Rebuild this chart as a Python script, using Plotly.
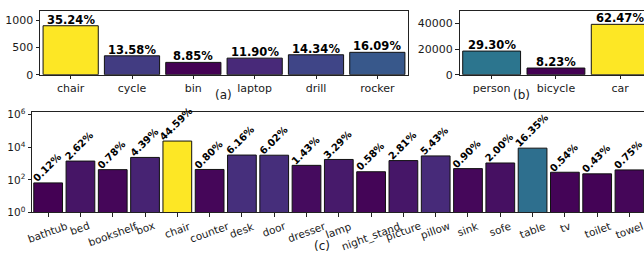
import math
import plotly.graph_objects as go

W, H = 644, 263

# ---- data ----
a_cats = ["chair", "cycle", "bin", "laptop", "drill", "rocker"]
a_vals = [900, 347, 226, 304, 366, 411]
a_pct = ["35.24%", "13.58%", "8.85%", "11.90%", "14.34%", "16.09%"]

b_cats = ["person", "bicycle", "car"]
b_vals = [18460, 5185, 39360]
b_pct = ["29.30%", "8.23%", "62.47%"]

c_cats = ["bathtub", "bed", "bookshelf", "box", "chair", "counter", "desk", "door",
          "dresser", "lamp", "night_stand", "picture", "pillow", "sink", "sofe",
          "table", "tv", "toilet", "towel"]
c_pctv = [0.12, 2.62, 0.78, 4.39, 44.59, 0.80, 6.16, 6.02, 1.43, 3.29, 0.58, 2.81,
          5.43, 0.90, 2.00, 16.35, 0.54, 0.43, 0.75]
c_vals = [65, 1428, 425, 2393, 24300, 436, 3357, 3281, 779, 1793, 316, 1531,
          2959, 491, 1090, 8911, 294, 234, 409]
c_ticks = [1, 100, 10000, 1000000]
c_ticktext = ["10<sup>0</sup>", "10<sup>2</sup>", "10<sup>4</sup>", "10<sup>6</sup>"]

FONT = "DejaVu Sans"
INK = "#1a1a1a"

def px_x(p):
    return p / W

def px_y(p):
    return 1 - p / H

fig = go.Figure()

bar_common = dict(marker_line_color="#111111", marker_line_width=1, showlegend=False,
                  hoverinfo="skip")

fig.add_trace(go.Bar(x=a_cats, y=a_vals, xaxis="x", yaxis="y",
                     marker=dict(color=a_vals, colorscale="Viridis"), width=0.9, **bar_common))
fig.add_trace(go.Bar(x=b_cats, y=b_vals, xaxis="x2", yaxis="y2",
                     marker=dict(color=b_vals, colorscale="Viridis"), width=0.9, **bar_common))
fig.add_trace(go.Bar(x=c_cats, y=c_vals, xaxis="x3", yaxis="y3",
                     marker=dict(color=c_vals, colorscale="Viridis"), width=0.89, **bar_common))

axis_style = dict(showline=True, linecolor="#222222", linewidth=1, ticks="outside",
                  ticklen=3.5, tickwidth=1, tickcolor="#222222", showgrid=False,
                  zeroline=False, tickfont=dict(family=FONT, size=11, color=INK))

annotations = []

# panel (a)
fig.update_layout(
    xaxis=dict(domain=[px_x(40), px_x(408)], anchor="y", type="category",
               range=[-0.5, 5.5], mirror=True, **axis_style),
    yaxis=dict(domain=[px_y(73), px_y(6)], anchor="x", range=[0, 1176],
               tickvals=[0, 500, 1000], mirror=True, **axis_style),
)
for c, v, t in zip(a_cats, a_vals, a_pct):
    annotations.append(dict(x=c, y=v, xref="x", yref="y", text="<b>%s</b>" % t,
                            showarrow=False, xanchor="center", yanchor="bottom", yshift=-3,
                            font=dict(family=FONT, size=11.5, color="black")))

# panel (b)
fig.update_layout(
    xaxis2=dict(domain=[px_x(459.5), 1.0], anchor="y2", type="category",
                range=[-0.5, 2.37], mirror=True, **axis_style),
    yaxis2=dict(domain=[px_y(73), px_y(6)], anchor="x2", range=[0, 50000],
                tickvals=[0, 20000, 40000], tickformat="d", mirror=False, **axis_style),
)
for c, v, t in zip(b_cats, b_vals, b_pct):
    annotations.append(dict(x=c, y=v, xref="x2", yref="y2", text="<b>%s</b>" % t,
                            showarrow=False, xanchor="center", yanchor="bottom", yshift=-3,
                            font=dict(family=FONT, size=11.5, color="black")))

# panel (c)
c_axis = dict(axis_style)
c_axis["tickfont"] = dict(family=FONT, size=10.5, color=INK)
fig.update_layout(
    xaxis3=dict(domain=[px_x(32), 1.0], anchor="y3", type="category",
                range=[-0.5, 18.45], mirror=True, showticklabels=False, **c_axis),
    yaxis3=dict(domain=[px_y(217.3), px_y(112.5)], anchor="x3", type="log",
                range=[0, 6.15], tickvals=c_ticks, ticktext=c_ticktext,
                mirror=False, **c_axis),
)
for c, v, p in zip(c_cats, c_vals, c_pctv):
    annotations.append(dict(x=c, y=math.log10(v), xref="x3", yref="y3",
                            text="<b>%.2f%%</b>" % p, textangle=-45,
                            showarrow=False, xanchor="center", yanchor="bottom", yshift=-4,
                            xshift=-1,
                            font=dict(family=FONT, size=10, color="black")))
for c in c_cats:
    annotations.append(dict(x=c, y=px_y(222), xref="x3", yref="paper", text=c,
                            textangle=-20, showarrow=False, xanchor="center",
                            yanchor="top",
                            font=dict(family=FONT, size=10.5, color=INK)))

# panel labels
for txt, x, y in [("(a)", 223, 94), ("(b)", 521, 94), ("(c)", 322, 252)]:
    annotations.append(dict(x=px_x(x), y=px_y(y), xref="paper", yref="paper", text=txt,
                            showarrow=False, xanchor="center", yanchor="middle",
                            font=dict(family=FONT, size=12, color=INK)))

fig.update_layout(
    width=W, height=H, margin=dict(l=0, r=0, t=0, b=0),
    paper_bgcolor="white", plot_bgcolor="white",
    annotations=annotations, bargap=0.1,
    font=dict(family=FONT, color=INK),
)

fig.write_html("out.html", config={"displayModeBar": False},
               post_script="document.body.style.margin='0';document.body.style.overflow='hidden';")
